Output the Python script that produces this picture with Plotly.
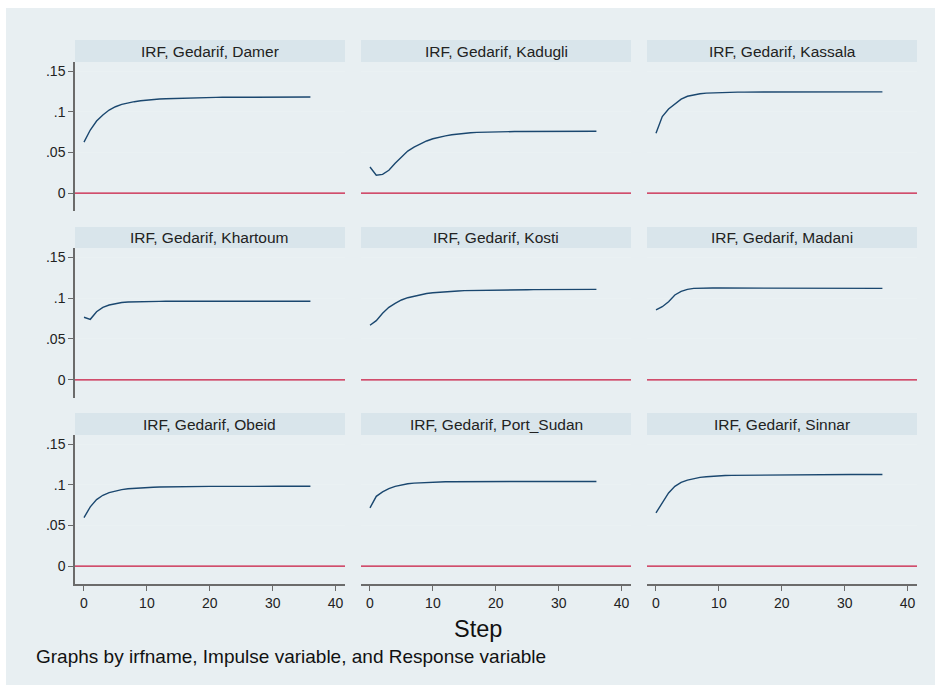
import plotly.graph_objects as go

W, H = 935, 685

steps = list(range(37))

titles = ["IRF, Gedarif, Damer", "IRF, Gedarif, Kadugli", "IRF, Gedarif, Kassala",
          "IRF, Gedarif, Khartoum", "IRF, Gedarif, Kosti", "IRF, Gedarif, Madani",
          "IRF, Gedarif, Obeid", "IRF, Gedarif, Port_Sudan", "IRF, Gedarif, Sinnar"]

damer = [0.0626, 0.0775, 0.0885, 0.0960, 0.1020, 0.1061, 0.1090, 0.1109, 0.1123, 0.1134,
         0.1143, 0.1150, 0.1156, 0.1160, 0.1163, 0.1166, 0.1169, 0.1171, 0.1173, 0.1174,
         0.1175, 0.1176, 0.1177, 0.1177, 0.1178, 0.1178, 0.1179, 0.1179, 0.1179, 0.1180,
         0.1180, 0.1180, 0.1180, 0.1180, 0.1180, 0.1180, 0.1180]
kadugli = [0.0320, 0.0220, 0.0230, 0.0280, 0.0366, 0.0440, 0.0516, 0.0565, 0.0606, 0.0640,
           0.0667, 0.0687, 0.0703, 0.0716, 0.0727, 0.0736, 0.0742, 0.0746, 0.0749, 0.0751,
           0.0752, 0.0754, 0.0755, 0.0756, 0.0757, 0.0757, 0.0758, 0.0758, 0.0759, 0.0759,
           0.0759, 0.0760, 0.0760, 0.0760, 0.0760, 0.0760, 0.0760]
kassala = [0.0736, 0.0940, 0.1033, 0.1100, 0.1155, 0.1190, 0.1207, 0.1220, 0.1228, 0.1232,
           0.1236, 0.1238, 0.1239, 0.1240, 0.1241, 0.1241, 0.1242, 0.1242, 0.1242, 0.1243,
           0.1243, 0.1243, 0.1243, 0.1243, 0.1244, 0.1244, 0.1244, 0.1244, 0.1244, 0.1244,
           0.1244, 0.1244, 0.1244, 0.1244, 0.1244, 0.1244, 0.1244]
khartoum = [0.0765, 0.0740, 0.0833, 0.0886, 0.0915, 0.0935, 0.0946, 0.0952, 0.0955, 0.0957,
            0.0958, 0.0959, 0.0959, 0.0960, 0.0960, 0.0960, 0.0960, 0.0960, 0.0960, 0.0960,
            0.0960, 0.0960, 0.0960, 0.0960, 0.0960, 0.0960, 0.0960, 0.0960, 0.0960, 0.0960,
            0.0960, 0.0960, 0.0960, 0.0960, 0.0960, 0.0960, 0.0960]
kosti = [0.0667, 0.0724, 0.0813, 0.0886, 0.0935, 0.0976, 0.1004, 0.1024, 0.1042, 0.1055,
         0.1065, 0.1072, 0.1077, 0.1082, 0.1086, 0.1090, 0.1092, 0.1094, 0.1096, 0.1097,
         0.1098, 0.1099, 0.1100, 0.1101, 0.1102, 0.1102, 0.1103, 0.1103, 0.1104, 0.1104,
         0.1105, 0.1105, 0.1105, 0.1106, 0.1106, 0.1106, 0.1106]
madani = [0.0854, 0.0894, 0.0955, 0.1037, 0.1081, 0.1106, 0.1118, 0.1122, 0.1123, 0.1123,
          0.1122, 0.1122, 0.1121, 0.1121, 0.1121, 0.1120, 0.1120, 0.1120, 0.1120, 0.1120,
          0.1119, 0.1119, 0.1119, 0.1119, 0.1119, 0.1119, 0.1119, 0.1118, 0.1118, 0.1118,
          0.1118, 0.1118, 0.1118, 0.1118, 0.1118, 0.1118, 0.1118]
obeid = [0.0594, 0.0728, 0.0817, 0.0870, 0.0903, 0.0925, 0.0940, 0.0950, 0.0957, 0.0962,
         0.0966, 0.0969, 0.0972, 0.0974, 0.0975, 0.0976, 0.0977, 0.0978, 0.0978, 0.0979,
         0.0979, 0.0979, 0.0980, 0.0980, 0.0980, 0.0980, 0.0980, 0.0980, 0.0980, 0.0980,
         0.0980, 0.0980, 0.0980, 0.0980, 0.0980, 0.0980, 0.0980]
port_sudan = [0.0716, 0.0857, 0.0911, 0.0951, 0.0980, 0.1000, 0.1012, 0.1019, 0.1024, 0.1029,
              0.1033, 0.1035, 0.1036, 0.1037, 0.1038, 0.1038, 0.1039, 0.1039, 0.1039, 0.1040,
              0.1040, 0.1040, 0.1040, 0.1040, 0.1040, 0.1040, 0.1040, 0.1040, 0.1040, 0.1040,
              0.1040, 0.1040, 0.1040, 0.1040, 0.1040, 0.1040, 0.1040]
sinnar = [0.0654, 0.0777, 0.0898, 0.0980, 0.1028, 0.1057, 0.1077, 0.1090, 0.1098, 0.1105,
          0.1110, 0.1113, 0.1115, 0.1116, 0.1117, 0.1118, 0.1119, 0.1120, 0.1121, 0.1121,
          0.1122, 0.1122, 0.1123, 0.1123, 0.1123, 0.1124, 0.1124, 0.1124, 0.1125, 0.1125,
          0.1125, 0.1125, 0.1125, 0.1126, 0.1126, 0.1126, 0.1126]

series = [damer, kadugli, kassala, khartoum, kosti, madani, obeid, port_sudan, sinnar]

y_tickvals = [0, 0.05, 0.1, 0.15]
y_ticktext = ["0", ".05", ".1", ".15"]
x_tickvals = [0, 10, 20, 30, 40]
x_ticktext = ["0", "10", "20", "30", "40"]

FONT = "Liberation Sans, Arial, sans-serif"
BG = "#e8eff2"
STRIP = "#d9e5eb"
GRID = "#eaf1f3"
LINE = "#1a476f"
ZERO = "#c8163f"
AXIS = "#6b6b6b"

col_px = [(75, 345), (361, 631), (647, 917)]
row_px = [(62, 211), (248, 398), (435, 584)]   # plot areas (top, bottom)
strip_px = [(40, 62), (227, 248), (413, 435)]

def px2x(p):
    return p / W

def px2y(p):
    return 1 - p / H

fig = go.Figure()
layout = dict(
    width=W, height=H,
    margin=dict(l=0, r=0, t=0, b=0),
    paper_bgcolor="white",
    plot_bgcolor="white",
    showlegend=False,
    font=dict(family=FONT, color="#111111"),
)
shapes = []
annotations = []

# outer background
shapes.append(dict(type="rect", xref="paper", yref="paper",
                   x0=px2x(6), x1=1.0, y0=0.0, y1=px2y(8),
                   fillcolor=BG, line=dict(width=0), layer="below"))

for i in range(9):
    r, c = divmod(i, 3)
    n = i + 1
    xa = "xaxis" if n == 1 else f"xaxis{n}"
    ya = "yaxis" if n == 1 else f"yaxis{n}"
    xr = "x" if n == 1 else f"x{n}"
    yr = "y" if n == 1 else f"y{n}"
    x0p, x1p = col_px[c]
    t, b = row_px[r]
    layout[xa] = dict(
        domain=[px2x(x0p), px2x(x1p)], anchor=yr,
        range=[-1.43, 41.5], showgrid=False, zeroline=False,
        tickvals=x_tickvals, ticktext=x_ticktext,
        showticklabels=(r == 2), ticks="outside" if r == 2 else "",
        ticklen=5, tickcolor=AXIS, tickwidth=1,
        showline=(r == 2), linecolor=AXIS, linewidth=1.5,
        tickfont=dict(size=14, color="#222222", family=FONT),
        fixedrange=True,
    )
    layout[ya] = dict(
        domain=[px2y(b), px2y(t)], anchor=xr,
        range=[-0.0221, 0.1611], showgrid=True, gridcolor=GRID, gridwidth=1,
        zeroline=False,
        tickvals=y_tickvals, ticktext=y_ticktext,
        showticklabels=(c == 0), ticks="outside" if c == 0 else "",
        ticklen=5, tickcolor=AXIS, tickwidth=1,
        showline=(c == 0), linecolor=AXIS, linewidth=1.5,
        tickfont=dict(size=14, color="#222222", family=FONT),
        fixedrange=True,
    )
    # strip
    st, sb = strip_px[r]
    shapes.append(dict(type="rect", xref="paper", yref="paper",
                       x0=px2x(x0p), x1=px2x(x1p), y0=px2y(sb), y1=px2y(st),
                       fillcolor=STRIP, line=dict(width=0), layer="below"))
    annotations.append(dict(text=titles[i], xref="paper", yref="paper",
                            x=(px2x(x0p) + px2x(x1p)) / 2, y=(px2y(sb) + px2y(st)) / 2,
                            xanchor="center", yanchor="middle", showarrow=False,
                            font=dict(size=15.5, color="#222222", family=FONT)))
    # zero reference line
    shapes.append(dict(type="line", xref=f"{xr} domain", yref=yr,
                       x0=0, x1=1, y0=0, y1=0,
                       line=dict(color=ZERO, width=1.3)))
    fig.add_trace(go.Scatter(x=steps, y=series[i], mode="lines",
                             line=dict(color=LINE, width=1.4),
                             xaxis=xr, yaxis=yr, hoverinfo="skip"))

annotations.append(dict(text="Step", xref="paper", yref="paper",
                        x=px2x(478), y=px2y(629), xanchor="center", yanchor="middle",
                        showarrow=False, font=dict(size=23.5, color="#111111", family=FONT)))
annotations.append(dict(text="Graphs by irfname, Impulse variable, and Response variable",
                        xref="paper", yref="paper",
                        x=px2x(34), y=px2y(656), xanchor="left", yanchor="middle",
                        showarrow=False, font=dict(size=19, color="#111111", family=FONT)))

layout["shapes"] = shapes
layout["annotations"] = annotations
fig.update_layout(**layout)
fig.write_html("out.html", config={"displayModeBar": False},
               post_script="document.body.style.margin='0';")
